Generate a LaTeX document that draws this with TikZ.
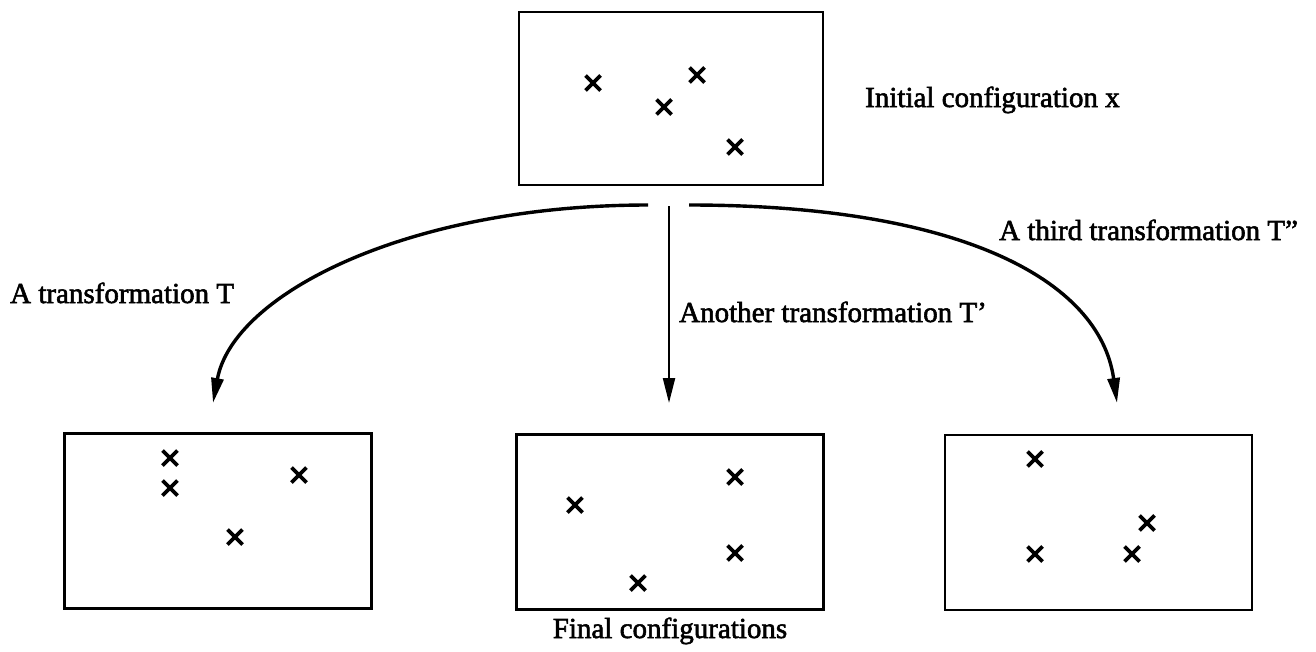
\documentclass[tikz,border=0pt]{standalone}
\usepackage{fontspec}
\setmainfont{Liberation Serif}[FakeBold=2]
\usetikzlibrary{arrows.meta}
\begin{document}
\begin{tikzpicture}[x=1pt,y=-1pt,
  cfgbox/.style={draw, line width=2.6pt, inner sep=0pt, minimum width=307pt, minimum height=175pt},
  lbl/.style={inner sep=0pt, font=\fontsize{29}{34}\selectfont},
  curvearrow/.style={line width=3.4pt, -{Triangle[length=25pt,width=12pt]}},
  straightarrow/.style={line width=2.2pt, -{Triangle[length=25pt,width=12pt]}},
  xm/.pic={\draw[line width=3.6pt] (-7.5,-7.5)--(7.5,7.5) (-7.5,7.5)--(7.5,-7.5);}]
\useasboundingbox (0,0) rectangle (1316,651);
\fill[white] (0,0) rectangle (1316,651);

% boxes
\node[cfgbox, minimum width=304pt, minimum height=173pt] (init) at (671,98.5) {};
\node[cfgbox] (finA) at (218,521) {};
\node[cfgbox] (finB) at (670,522) {};
\node[cfgbox] (finC) at (1098.5,522.5) {};

% crosses
\foreach \p in {(593,83),(664,107),(697,75),(735,147)} \pic at \p {xm};
\foreach \p in {(170,458),(170,488),(235,537),(299,475)} \pic at \p {xm};
\foreach \p in {(575,505),(735,477),(735,553),(638,583)} \pic at \p {xm};
\foreach \p in {(1035,459),(1147,523),(1035,554),(1132,554)} \pic at \p {xm};

% labels
\node[lbl, anchor=base west] (linit) at (865,107) {Initial configuration x};
\node[lbl, anchor=base west] (lT) at (10,303) {A transformation T};
\node[lbl, anchor=base west] (lTp) at (679,322) {Another transformation T’};
\node[lbl, anchor=base west] (lTpp) at (999,240) {A third transformation T"};
\node[lbl, anchor=base] (lfin) at (670,638) {Final configurations};

% connectors
\coordinate (sL) at (648,205);
\coordinate (tL) at (213,403);
\coordinate (sM) at (669,206);
\coordinate (tM) at (669,403);
\coordinate (sR) at (689,205);
\coordinate (tR) at (1117,403);
\draw[curvearrow] (sL) .. controls (408,205) and (233,294) .. (tL);
\draw[straightarrow] (sM) -- (tM);
\draw[curvearrow] (sR) .. controls (960,205) and (1100,280) .. (tR);
\end{tikzpicture}
\end{document}
